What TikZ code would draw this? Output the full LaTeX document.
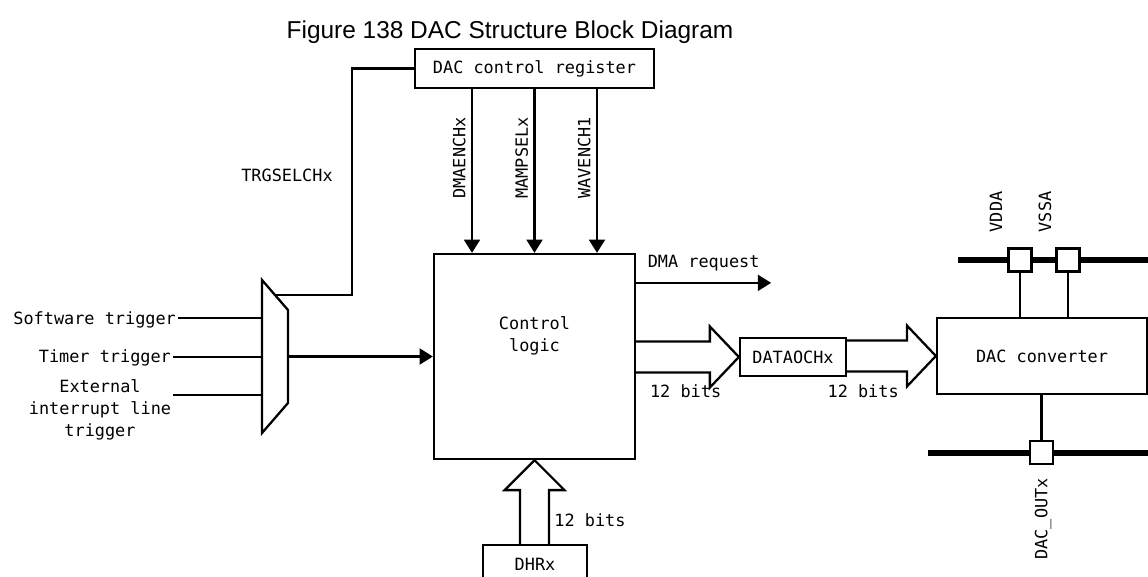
\documentclass[tikz,border=0pt]{standalone}
\usepackage{fontspec}
\setmainfont{Liberation Sans}
\setmonofont{DejaVu Sans Mono}
\usepackage{tikz}
\usetikzlibrary{calc,arrows.meta}

\newcommand{\lblfont}{\ttfamily\fontsize{9.6}{12.5}\selectfont}

\tikzset{
  wire/.style={line width=1.3pt},
  bus/.style={line width=3pt},
  blk/.style={draw, line width=1.3pt, inner sep=0pt, font=\lblfont, align=center},
  pinbox/.style={draw, fill=white, line width=1.3pt, minimum size=0.46cm, inner sep=0pt},
  lbl/.style={font=\lblfont, inner sep=1pt, align=center},
  fat/.style={draw, line width=1.3pt},
}

% wide bus arrow, left to right
\newcommand{\fatright}[2]{%
  \draw[fat] let \p1=(#1), \p2=(#2) in
    (\x1,{\y2+0.31cm}) -- ({\x2-0.58cm},{\y2+0.31cm}) -- ({\x2-0.58cm},{\y2+0.61cm})
    -- (\x2,\y2) -- ({\x2-0.58cm},{\y2-0.61cm}) -- ({\x2-0.58cm},{\y2-0.31cm})
    -- (\x1,{\y2-0.31cm});}
% wide bus arrow, bottom to top
\newcommand{\fatup}[2]{%
  \draw[fat] let \p1=(#1), \p2=(#2) in
    ({\x2-0.29cm},\y1) -- ({\x2-0.29cm},{\y2-0.6cm}) -- ({\x2-0.6cm},{\y2-0.6cm})
    -- (\x2,\y2) -- ({\x2+0.6cm},{\y2-0.6cm}) -- ({\x2+0.29cm},{\y2-0.6cm})
    -- ({\x2+0.29cm},\y1);}

\begin{document}
\begin{tikzpicture}[x=0.02cm, y=-0.02cm, >={Triangle[length=7.5pt,width=9pt]}]
  \useasboundingbox (0,0) rectangle (1148,577);
  \node[font=\fontsize{13.9}{16}\selectfont] (title) at (510,32) {Figure 138 DAC Structure Block Diagram};

  % ------- blocks -------
  \node[blk, minimum width=4.78cm, minimum height=0.78cm] (reg) at (534.5,68.5) {DAC control register};
  \node[blk, minimum width=4.02cm, minimum height=4.1cm,
        label={[lbl, yshift=0.42cm]center:Control\\logic}] (ctrl) at (534.5,356.5) {};
  \node[blk, minimum width=2.12cm, minimum height=0.76cm] (datao) at (793,357) {DATAOCHx};
  \node[blk, minimum width=4.2cm, minimum height=1.52cm] (dac) at (1042,356) {DAC converter};
  \node[blk, minimum width=2.08cm, minimum height=0.76cm] (dhr) at (535,564) {DHRx};

  % ------- trigger selector -------
  \coordinate (muxtl) at (262,280);
  \coordinate (muxtr) at (288,310);
  \coordinate (muxbr) at (288,403);
  \coordinate (muxbl) at (262,433);
  \draw[wire] (muxtl) -- (muxtr) -- (muxbr) -- (muxbl) -- cycle;
  \coordinate (muxsel) at ($(muxtl)!0.5!(muxtr)$);
  \coordinate (muxout) at ($(muxtr)!0.5!(muxbr)$);
  \coordinate (in1) at (262,318);
  \coordinate (in2) at (262,357);
  \coordinate (in3) at (262,395);

  \node[lbl, anchor=east] (sw) at (178,320) {Software trigger};
  \node[lbl, anchor=east] (tim) at (173,357.5) {Timer trigger};
  \node[lbl] (ext) at (100,410) {External\\interrupt line\\trigger};
  \foreach \src/\dst in {sw/in1, tim/in2, ext/in3}
    \draw[wire] (\src.east |- \dst) -- (\dst);
  \draw[wire, ->] (muxout) -- (ctrl.west |- muxout);

  \draw[wire] (reg.west) -- ++(-62,0) |- (muxsel);
  \node[lbl] (trgsel) at (287,175) {TRGSELCHx};

  % ------- control bits -------
  \foreach \dx/\bit in {-62.5/DMAENCHx, 0/MAMPSELx, 62.5/WAVENCH1}
    \draw[wire, ->] ([shift={(\dx,0)}]reg.south) -- ([shift={(\dx,0)}]ctrl.north)
      node[lbl, pos=0.42, rotate=90, anchor=south, inner sep=3pt] {\bit};

  \draw[wire, ->] ([yshift=-0.6cm]ctrl.north east) -- ++(135,0)
    node[lbl, midway, above=5pt] (dmareq) {DMA request};

  % ------- data path -------
  \fatright{ctrl.east}{datao.west}
  \fatright{datao.east}{dac.west}
  \fatup{dhr.north}{ctrl.south}
  \node[lbl] (bits1) at ([shift={(49.5,35)}]ctrl.east) {12 bits};
  \node[lbl] (bits2) at ([shift={(16,34)}]datao.east) {12 bits};
  \node[lbl] (bits3) at ([shift={(55,-24)}]dhr.north) {12 bits};

  % ------- pins -------
  \coordinate (vbusl) at (958,260);
  \coordinate (vbusr) at (1148,260);
  \coordinate (obusl) at (928,453);
  \coordinate (obusr) at (1148,453);
  \draw[bus] (vbusl) -- (vbusr);
  \draw[bus] (obusl) -- (obusr);
  \node[pinbox] (vddpin) at (1020,260) {};
  \node[pinbox] (vsspin) at (1068,260) {};
  \node[pinbox] (outpin) at (1041.5,452.5) {};
  \draw[wire] (vddpin) -- (vddpin |- dac.north);
  \draw[wire] (vsspin) -- (vsspin |- dac.north);
  \draw[wire] (dac.south -| outpin) -- (outpin);
  \node[lbl, rotate=90, anchor=west] (vdda) at ([shift={(-24,-13)}]vddpin.north) {VDDA};
  \node[lbl, rotate=90, anchor=west] (vssa) at ([shift={(-23,-13)}]vsspin.north) {VSSA};
  \node[lbl, rotate=90, anchor=east] (dacout) at ([shift={(1.5,11)}]outpin.south) {DAC\_OUTx};
\end{tikzpicture}
\end{document}
